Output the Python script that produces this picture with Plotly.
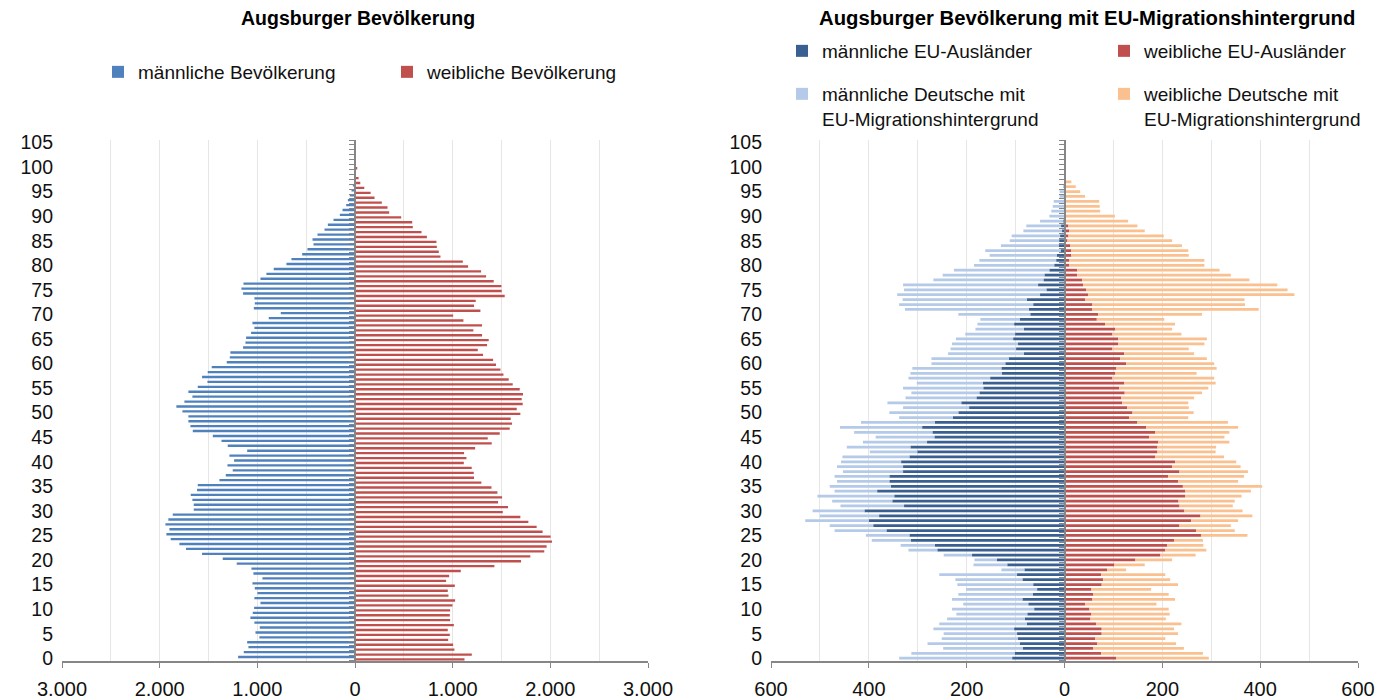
import plotly.graph_objects as go

ages = list(range(106))
y_tick_vals = list(range(0, 106, 5))

left_x_ticks = [-3000, -2000, -1000, 0, 1000, 2000, 3000]
left_x_labels = ["3.000", "2.000", "1.000", "0", "1.000", "2.000", "3.000"]
right_x_ticks = [-600, -400, -200, 0, 200, 400, 600]
right_x_labels = ["600", "400", "200", "0", "200", "400", "600"]

# Augsburger Bevölkerung (Alter 0..105)
male_total = [1197, 1139, 1091, 1104, 979, 1019, 975, 1030, 1071, 1047,
              1033, 968, 1030, 999, 1026, 1050, 948, 1040, 1060, 1211,
              1354, 1566, 1730, 1798, 1887, 1931, 1900, 1941, 1911, 1866,
              1651, 1651, 1665, 1682, 1617, 1610, 1388, 1323, 1252, 1306,
              1238, 1286, 1104, 1303, 1367, 1456, 1661, 1685, 1706, 1706,
              1767, 1829, 1747, 1665, 1706, 1610, 1511, 1566, 1508, 1467,
              1313, 1282, 1276, 1146, 1122, 1115, 1064, 1030, 1050, 883,
              760, 1036, 1026, 1030, 1146, 1163, 1142, 968, 907, 832,
              702, 651, 541, 487, 425, 435, 384, 312, 278, 220,
              155, 128, 90, 73, 53, 36, 22, 10, 5, 3,
              2, 0, 0, 0, 0, 0]

female_total = [1121, 1196, 1018, 1005, 954, 971, 950, 1012, 974, 971,
                974, 998, 1025, 957, 950, 1022, 933, 964, 1083, 1427,
                1700, 1795, 1938, 1962, 2017, 2003, 1921, 1860, 1775, 1693,
                1513, 1567, 1465, 1506, 1458, 1397, 1294, 1219, 1216, 1195,
                1114, 1141, 1117, 1230, 1400, 1359, 1482, 1584, 1608, 1594,
                1693, 1656, 1717, 1707, 1720, 1687, 1615, 1574, 1520, 1489,
                1444, 1414, 1311, 1257, 1352, 1369, 1301, 1212, 1301, 1110,
                1005, 1284, 1219, 1236, 1533, 1502, 1499, 1420, 1342, 1291,
                1158, 1104, 875, 858, 838, 834, 736, 681, 592, 586,
                473, 350, 333, 275, 200, 160, 95, 54, 37, 10,
                23, 3, 0, 0, 0, 0]

# EU-Migrationshintergrund (Alter 0..105)
eu_male = [107, 102, 85, 91, 95, 97, 103, 77, 81, 76,
           62, 74, 86, 65, 56, 64, 86, 97, 82, 117,
           138, 189, 260, 265, 314, 317, 364, 391, 400, 379,
           409, 328, 352, 348, 383, 355, 358, 358, 330, 330,
           334, 317, 301, 315, 281, 266, 270, 291, 265, 228,
           217, 195, 211, 180, 174, 166, 167, 152, 128, 129,
           121, 114, 83, 99, 95, 105, 101, 83, 103, 91,
           70, 73, 64, 77, 50, 37, 54, 43, 41, 31,
           21, 17, 16, 8, 12, 11, 9, 5, 7, 2,
           0, 0, 0, 0, 0, 0, 0, 0, 0, 0,
           0, 0, 0, 0, 0, 0]

de_male = [231, 211, 163, 189, 156, 150, 165, 179, 159, 145,
           168, 133, 144, 152, 145, 155, 137, 159, 47, 69,
           46, 58, 59, 70, 80, 89, 106, 89, 130, 121,
           106, 130, 123, 157, 87, 125, 107, 112, 123, 135,
           123, 137, 97, 130, 131, 120, 160, 168, 151, 110,
           141, 135, 151, 145, 139, 164, 135, 167, 187, 182,
           151, 158, 155, 134, 135, 117, 102, 99, 75, 81,
           147, 253, 274, 254, 292, 291, 276, 225, 208, 195,
           164, 157, 137, 154, 118, 101, 99, 79, 71, 48,
           31, 27, 24, 22, 10, 10, 3, 0, 0, 0,
           0, 0, 0, 0, 0, 0]

eu_female = [106, 75, 59, 67, 63, 76, 76, 65, 53, 55,
             51, 42, 57, 59, 55, 76, 79, 75, 87, 102,
             145, 196, 206, 210, 224, 279, 269, 235, 259, 278,
             245, 235, 233, 247, 247, 242, 232, 212, 235, 220,
             226, 185, 190, 190, 192, 173, 185, 167, 149, 132,
             139, 128, 118, 116, 123, 112, 122, 98, 104, 106,
             126, 114, 122, 98, 110, 110, 98, 104, 83, 66,
             69, 57, 57, 42, 48, 44, 38, 36, 26, 26,
             10, 10, 14, 14, 12, 6, 8, 10, 8, 1,
             0, 0, 0, 0, 0, 0, 0, 0, 0, 0,
             0, 0, 0, 0, 0, 0]

de_female = [189, 208, 185, 161, 143, 156, 148, 174, 154, 160,
             162, 146, 169, 154, 122, 156, 137, 131, 39, 62,
             75, 72, 84, 74, 59, 95, 79, 105, 96, 106,
             119, 109, 115, 115, 134, 162, 123, 155, 140, 140,
             125, 141, 119, 120, 145, 154, 152, 188, 185, 121,
             125, 126, 135, 149, 158, 182, 187, 208, 166, 205,
             180, 177, 143, 156, 176, 181, 141, 116, 143, 138,
             212, 340, 312, 326, 422, 412, 397, 342, 314, 291,
             276, 276, 240, 239, 228, 214, 195, 154, 141, 129,
             103, 73, 72, 71, 42, 32, 23, 14, 3, 0,
             0, 0, 0, 0, 0, 0]

FONT = "Liberation Sans, Arial, Helvetica, sans-serif"
AXIS_GRAY = "#868686"
GRID = "#E6E6E6"

# the page body has an 8px default margin: the figure fills the rest of the window
PAGE_MARGIN = 8
W, H = 1391 - PAGE_MARGIN, 700 - PAGE_MARGIN
def px_x(p):
    return (p - PAGE_MARGIN) / W
def px_y(p):
    return 1 - (p - PAGE_MARGIN) / H

fig = go.Figure()

# Left pyramid (grouped look via explicit offsets)
fig.add_trace(go.Bar(name="männliche Bevölkerung", x=[-v for v in male_total], y=ages,
                     orientation="h", marker=dict(color="#4F81BD", line=dict(width=0)),
                     width=0.48, offset=0.01, xaxis="x", yaxis="y",
                     legend="legend", legendrank=1, hoverinfo="skip"))
fig.add_trace(go.Bar(name="weibliche Bevölkerung", x=female_total, y=ages,
                     orientation="h", marker=dict(color="#C0504D", line=dict(width=0)),
                     width=0.48, offset=-0.49, xaxis="x", yaxis="y",
                     legend="legend", legendrank=2, hoverinfo="skip"))

# Right pyramid (stacked)
RW = 0.56
fig.add_trace(go.Bar(name="männliche EU-Ausländer", x=[-v for v in eu_male], y=ages,
                     orientation="h", marker=dict(color="#3A5F91", line=dict(width=0)),
                     width=RW, xaxis="x2", yaxis="y2", legend="legend2", hoverinfo="skip"))
fig.add_trace(go.Bar(name="männliche Deutsche mit<br>EU-Migrationshintergrund",
                     x=[-v for v in de_male], y=ages,
                     orientation="h", marker=dict(color="#B4CAE8", line=dict(width=0)),
                     width=RW, xaxis="x2", yaxis="y2", legend="legend3", hoverinfo="skip"))
fig.add_trace(go.Bar(name="weibliche EU-Ausländer", x=eu_female, y=ages,
                     orientation="h", marker=dict(color="#C0504D", line=dict(width=0)),
                     width=RW, xaxis="x2", yaxis="y2", legend="legend2", hoverinfo="skip"))
fig.add_trace(go.Bar(name="weibliche Deutsche mit<br>EU-Migrationshintergrund",
                     x=de_female, y=ages,
                     orientation="h", marker=dict(color="#FAC08F", line=dict(width=0)),
                     width=RW, xaxis="x2", yaxis="y2", legend="legend3", hoverinfo="skip"))

# invisible helpers so the centre axes (with category ticks) are drawn
fig.add_trace(go.Scatter(x=[0], y=[0], xaxis="x", yaxis="y3", mode="markers",
                         marker=dict(opacity=0), showlegend=False, hoverinfo="skip"))
fig.add_trace(go.Scatter(x=[0], y=[0], xaxis="x2", yaxis="y4", mode="markers",
                         marker=dict(opacity=0), showlegend=False, hoverinfo="skip"))

ydom = [px_y(660.7), px_y(140)]
xdom1 = [px_x(62), px_x(648)]
xdom2 = [px_x(771), px_x(1358)]

common_x = dict(showgrid=True, gridcolor=GRID, gridwidth=1, zeroline=False,
                showline=True, linecolor=AXIS_GRAY, linewidth=2,
                ticks="outside", ticklen=5, tickcolor=AXIS_GRAY, tickwidth=1,
                tickfont=dict(size=20, color="#111111", family=FONT),
                ticklabelstandoff=4, fixedrange=True, automargin=False)
common_y = dict(range=[-0.5, 105.5], tickvals=y_tick_vals, showgrid=False, zeroline=False,
                showline=False, ticks="", tickfont=dict(size=19.5, color="#111111", family=FONT),
                ticklabelstandoff=8, fixedrange=True, automargin=False)
boundary_ticks = [a - 0.5 for a in range(107)]
center_y = dict(range=[-0.5, 105.5], tickvals=boundary_ticks, showticklabels=False,
                ticks="outside", ticklen=5, tickcolor=AXIS_GRAY, tickwidth=1,
                showline=True, linecolor=AXIS_GRAY, linewidth=2,
                showgrid=False, zeroline=False, fixedrange=True, automargin=False)

fig.update_layout(
    template="none",
    width=W, height=H,
    margin=dict(l=0, r=0, t=0, b=0, autoexpand=False),
    paper_bgcolor="white", plot_bgcolor="white",
    barmode="relative",
    font=dict(family=FONT, size=19, color="#111111"),
    xaxis=dict(domain=xdom1, range=[-3000, 3000], tickvals=left_x_ticks, ticktext=left_x_labels,
               anchor="y", minor=dict(dtick=500, showgrid=True, gridcolor=GRID, gridwidth=1),
               **common_x),
    yaxis=dict(domain=ydom, anchor="x", **common_y),
    xaxis2=dict(domain=xdom2, range=[-600, 600], tickvals=right_x_ticks, ticktext=right_x_labels,
                anchor="y2", minor=dict(dtick=100, showgrid=True, gridcolor=GRID, gridwidth=1),
                **common_x),
    yaxis2=dict(domain=ydom, anchor="x2", **common_y),
    yaxis3=dict(overlaying="y", anchor="free", position=px_x(355), side="left", **center_y),
    yaxis4=dict(overlaying="y2", anchor="free", position=px_x(1065), side="left", **center_y),
    legend=dict(orientation="h", x=px_x(98), xanchor="left", y=px_y(72), yanchor="middle",
                entrywidth=244, font=dict(size=19, family=FONT, color="#111111"),
                bgcolor="rgba(0,0,0,0)", itemclick=False, itemdoubleclick=False),
    legend2=dict(orientation="h", x=px_x(782), xanchor="left", y=px_y(51), yanchor="middle",
                 entrywidth=277, font=dict(size=19, family=FONT, color="#111111"),
                 bgcolor="rgba(0,0,0,0)", itemclick=False, itemdoubleclick=False),
    legend3=dict(orientation="h", x=px_x(782), xanchor="left", y=px_y(106.5), yanchor="middle",
                 entrywidth=277, valign="top", font=dict(size=19, family=FONT, color="#111111"),
                 bgcolor="rgba(0,0,0,0)", itemclick=False, itemdoubleclick=False),
    annotations=[
        dict(text="<b>Augsburger Bevölkerung</b>", x=px_x(358), y=px_y(18), xref="paper", yref="paper",
             xanchor="center", yanchor="middle", showarrow=False,
             font=dict(size=19.5, family=FONT, color="#000000")),
        dict(text="<b>Augsburger Bevölkerung mit EU-Migrationshintergrund</b>", x=px_x(1087), y=px_y(18),
             xref="paper", yref="paper", xanchor="center", yanchor="middle", showarrow=False,
             font=dict(size=20.3, family=FONT, color="#000000")),
    ],
)

fig.write_html("out.html")
